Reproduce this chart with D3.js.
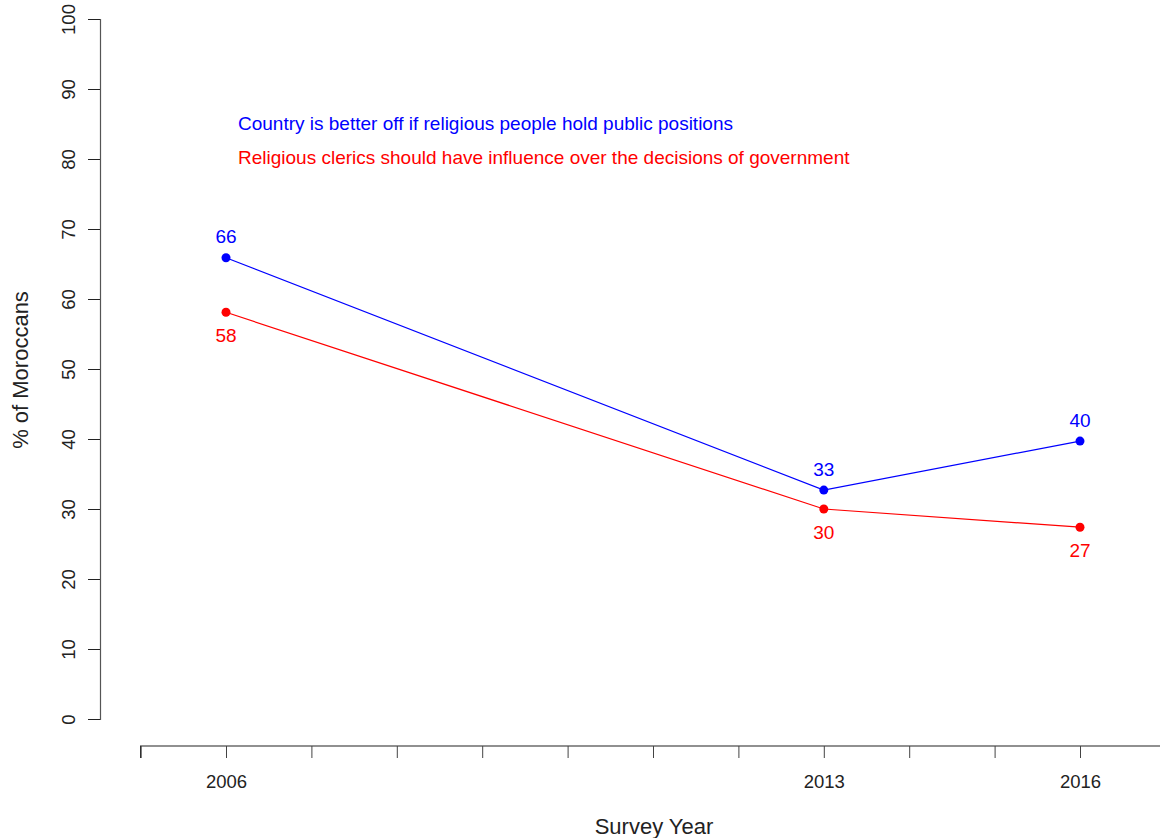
<!DOCTYPE html>
<html>
<head>
<meta charset="utf-8">
<script src="https://cdn.jsdelivr.net/npm/d3@7"></script>
<style>
  body { margin: 0; background: #fff; }
  text { font-family: "Liberation Sans", Arial, Helvetica, sans-serif; }
</style>
</head>
<body>
<div id="chart"></div>
<script>
// survey data
const years = [2006, 2013, 2016];
const publicPositions = [65.9, 32.7, 39.7];
const clericsInfluence = [58.1, 30.0, 27.4];
const valueLabels1 = ["66", "33", "40"];
const valueLabels2 = ["58", "30", "27"];
const yTicks = [0, 10, 20, 30, 40, 50, 60, 70, 80, 90, 100];
const xTicks = d3.range(2005, 2018);
const xTickLabels = [2006, 2013, 2016];

const width = 1160, height = 838;

const svg = d3.select("#chart")
  .append("svg")
  .attr("width", width)
  .attr("height", height);

const x = d3.scaleLinear().domain([2005, 2016]).range([140.6, 1080]);
const y = d3.scaleLinear().domain([0, 100]).range([719, 19]);

// y axis
const yAxis = svg.append("g")
  .attr("transform", "translate(100,0)")
  .call(d3.axisLeft(y).tickValues(yTicks).tickSize(12).tickFormat(d3.format("d")));
yAxis.select(".domain").attr("stroke", "#555").attr("stroke-width", 1.2);
yAxis.selectAll(".tick line").attr("stroke", "#222");
yAxis.selectAll(".tick text")
  .attr("font-size", 18.5)
  .attr("fill", "#222")
  .attr("text-anchor", "middle")
  .attr("dy", null)
  .attr("x", null)
  .attr("transform", "translate(-32,0) rotate(-90)")
  .attr("dominant-baseline", "central");

// x axis
const xAxis = svg.append("g")
  .attr("transform", "translate(0,746)")
  .call(d3.axisBottom(x).tickValues(xTicks).tickSize(12)
    .tickFormat(d => xTickLabels.includes(d) ? d : ""));
xAxis.select(".domain").attr("d", "M140.6,12V0H1160").attr("stroke", "#222").attr("stroke-width", 1.2);
xAxis.selectAll(".tick line").attr("stroke", "#444");
xAxis.selectAll(".tick text")
  .attr("font-size", 18.5)
  .attr("fill", "#222")
  .attr("y", 36)
  .attr("dy", "0.35em");

// axis titles
svg.append("text")
  .attr("x", 654).attr("y", 834)
  .attr("text-anchor", "middle")
  .attr("font-size", 22)
  .attr("fill", "#222")
  .text("Survey Year");

svg.append("text")
  .attr("transform", "translate(28,370) rotate(-90)")
  .attr("text-anchor", "middle")
  .attr("font-size", 22)
  .attr("fill", "#222")
  .text("% of Moroccans");

// series
const series = [
  { values: publicPositions, labels: valueLabels1, color: "#0000ff", offset: -21 },
  { values: clericsInfluence, labels: valueLabels2, color: "#ff0000", offset: 23 }
];

const line = d3.line().x((d, i) => x(years[i])).y(d => y(d));

series.forEach(s => {
  svg.append("path")
    .datum(s.values)
    .attr("fill", "none")
    .attr("stroke", s.color)
    .attr("stroke-width", 1.2)
    .attr("d", line);

  svg.selectAll(null)
    .data(s.values)
    .enter().append("circle")
    .attr("cx", (d, i) => x(years[i]))
    .attr("cy", d => y(d))
    .attr("r", 4.5)
    .attr("fill", s.color);

  svg.selectAll(null)
    .data(s.values)
    .enter().append("text")
    .attr("x", (d, i) => x(years[i]))
    .attr("y", d => y(d) + s.offset)
    .attr("text-anchor", "middle")
    .attr("dominant-baseline", "central")
    .attr("font-size", 19)
    .attr("fill", s.color)
    .text((d, i) => s.labels[i]);
});

// legend text
svg.append("text")
  .attr("x", 238).attr("y", 123)
  .attr("dominant-baseline", "central")
  .attr("font-size", 19)
  .attr("fill", "#0000ff")
  .text("Country is better off if religious people hold public positions");

svg.append("text")
  .attr("x", 238).attr("y", 157)
  .attr("dominant-baseline", "central")
  .attr("font-size", 19)
  .attr("fill", "#ff0000")
  .text("Religious clerics should have influence over the decisions of government");
</script>
</body>
</html>
